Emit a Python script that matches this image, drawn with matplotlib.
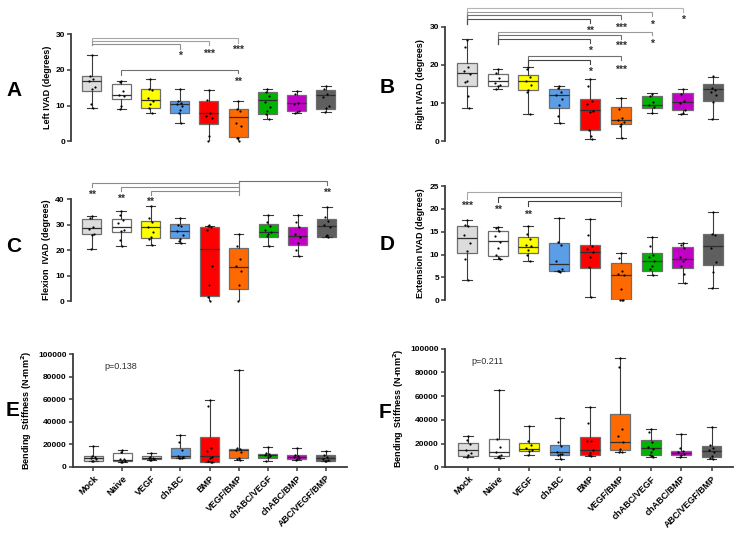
import matplotlib.pyplot as plt

plt.rcParams['font.family'] = ['Liberation Sans', 'DejaVu Sans']

groups = ['Mock', 'Naive', 'VEGF', 'chABC', 'BMP', 'VEGF/BMP',
          'chABC/VEGF', 'chABC/BMP', 'ABC/VEGF/BMP']
box_colors = ['#dcdcdc', '#ffffff', '#ffff00', '#5b9ee8', '#ff0000',
              '#ff6a00', '#00b300', '#c400c8', '#5f5f5f']

# box summaries per group: (whisker low, q1, median, q3, whisker high)
left_box = [(9.2, 14.0, 16.8, 18.2, 24.0), (8.9, 11.8, 13.0, 16.1, 16.8),
            (7.8, 9.3, 11.6, 14.6, 17.5), (5.0, 7.8, 10.4, 11.2, 14.7),
            (0.0, 4.9, 7.8, 11.2, 14.4), (0.0, 1.1, 6.7, 9.1, 11.2),
            (6.3, 7.5, 11.5, 13.7, 14.7), (7.8, 8.5, 10.6, 13.0, 14.2),
            (8.1, 9.1, 12.9, 14.4, 15.4)]
left_pts = [[24.0, 18.2, 17.5, 16.8, 15.2, 14.5, 10.3, 9.3],
            [16.8, 16.5, 14.2, 13.0, 12.6, 9.8, 8.9],
            [17.5, 14.6, 14.4, 12.2, 11.4, 10.5, 9.4, 7.8],
            [14.7, 11.2, 10.7, 10.3, 10.0, 8.8, 8.0, 5.0],
            [14.4, 11.5, 8.0, 7.2, 6.5, 1.5, 0.0],
            [11.2, 9.1, 8.4, 5.1, 4.3, 1.0, 0.8, 0.1],
            [14.7, 13.9, 12.8, 11.0, 9.6, 8.6, 7.5, 6.3],
            [14.0, 13.2, 10.8, 10.5, 8.5, 8.2, 7.8],
            [15.4, 14.5, 13.2, 12.5, 9.8, 9.2, 8.3]]

right_box = [(8.8, 14.6, 17.8, 20.6, 26.7), (13.8, 14.6, 15.8, 17.6, 18.8),
             (7.1, 13.3, 15.8, 17.3, 19.5), (4.9, 8.8, 12.0, 13.7, 14.6),
             (0.6, 2.9, 8.1, 11.2, 16.4), (0.9, 4.4, 5.6, 8.9, 11.4),
             (7.5, 8.8, 9.6, 11.9, 12.6), (7.1, 8.1, 10.3, 12.6, 13.8),
             (5.9, 10.6, 13.6, 14.9, 16.9)]
right_pts = [[26.5, 24.8, 19.5, 18.5, 17.5, 15.8, 15.5, 11.9, 8.8],
             [18.8, 17.8, 16.5, 15.2, 14.8, 14.5, 13.8],
             [19.5, 18.8, 16.8, 15.8, 14.8, 13.5, 12.8, 7.1],
             [14.5, 14.0, 13.0, 12.0, 11.0, 9.5, 6.5, 4.9],
             [16.4, 14.5, 10.5, 9.8, 8.0, 7.8, 3.0, 1.5, 0.6],
             [11.4, 8.5, 6.2, 5.5, 5.0, 4.4, 4.0, 0.9],
             [12.5, 11.8, 10.3, 9.6, 9.0, 7.5],
             [13.8, 12.5, 10.5, 10.0, 8.1, 7.5, 7.1],
             [17.0, 14.0, 13.5, 13.0, 12.0, 10.2, 5.9]]

flex_box = [(20.3, 26.2, 28.6, 32.1, 33.4), (21.6, 27.0, 29.2, 32.1, 35.4),
            (22.0, 24.7, 29.0, 31.6, 37.4), (22.7, 24.7, 27.5, 30.2, 32.5),
            (0.0, 2.1, 20.5, 29.0, 29.6), (0.0, 4.6, 13.5, 20.7, 26.4),
            (21.8, 25.0, 27.0, 30.4, 33.8), (17.6, 22.0, 25.6, 29.0, 33.7),
            (25.3, 25.3, 29.5, 32.4, 36.9)]
flex_pts = [[33.4, 32.5, 29.0, 28.5, 26.5, 26.0, 20.3],
            [35.4, 34.0, 32.0, 30.5, 28.0, 27.5, 24.0, 21.6],
            [37.4, 32.5, 31.0, 29.0, 27.0, 25.0, 24.5, 22.0],
            [32.5, 30.0, 29.5, 27.5, 26.0, 24.5, 23.5, 22.7],
            [29.8, 29.6, 29.3, 27.8, 13.8, 6.2, 1.5, 0.0],
            [26.4, 21.5, 16.4, 13.8, 12.0, 6.2, 0.0],
            [33.8, 31.0, 29.5, 28.0, 27.0, 26.5, 25.5, 21.8],
            [33.7, 31.0, 29.0, 26.5, 25.0, 23.0, 20.0, 17.6],
            [36.9, 33.0, 31.5, 30.0, 29.0, 26.0, 25.5, 25.3]]

ext_box = [(4.4, 10.3, 13.7, 16.3, 17.6), (9.0, 9.8, 12.9, 15.1, 16.1),
           (8.7, 10.3, 11.7, 13.8, 16.3), (6.5, 6.5, 7.9, 12.5, 17.9),
           (0.7, 7.0, 10.5, 12.2, 17.7), (0.0, 0.0, 5.5, 8.2, 10.4),
           (5.5, 6.5, 8.6, 10.3, 13.9), (3.8, 7.0, 9.1, 11.6, 12.6),
           (2.8, 7.7, 11.8, 14.4, 19.4)]
ext_pts = [[17.6, 16.5, 16.2, 14.2, 12.5, 10.8, 9.0, 4.4],
           [16.1, 15.8, 15.2, 14.0, 12.8, 11.5, 10.0, 9.2, 9.0],
           [16.3, 14.5, 13.5, 12.2, 11.8, 11.0, 10.0, 8.7],
           [17.9, 12.8, 12.0, 8.5, 6.8, 6.5, 6.5, 6.3],
           [17.7, 14.2, 11.8, 11.2, 10.5, 9.5, 7.2, 0.7],
           [10.4, 9.2, 6.5, 5.8, 5.5, 2.5, 0.1, 0.0, 0.0],
           [13.9, 11.8, 10.0, 9.5, 8.5, 7.5, 6.8, 5.5],
           [12.5, 12.0, 11.5, 9.5, 9.0, 8.5, 7.5, 5.8, 3.8],
           [19.4, 14.5, 14.3, 11.5, 8.3, 6.2, 2.8]]

bend_e_box = [(4730, 5330, 7690, 9170, 18640), (3850, 5330, 5900, 12430, 14500),
              (5600, 6800, 7700, 9170, 12100), (7690, 7690, 9170, 16570, 27800),
              (3850, 4140, 9170, 26000, 59200), (5900, 7400, 15100, 16000, 85500),
              (5330, 7990, 10060, 11240, 17460), (6210, 7100, 8290, 10650, 16570),
              (4730, 5330, 7690, 10060, 13900)]
bend_e_pts = [[18600, 9200, 8500, 7700, 6500, 5300, 4700],
              [14500, 13000, 7000, 6500, 5500, 4000, 3850],
              [12000, 9000, 8000, 7700, 7000, 6000, 5600],
              [27800, 22000, 14500, 9500, 8500, 8000, 7700, 7700],
              [59200, 54000, 17000, 14000, 9000, 7500, 5000, 4000, 3850],
              [85500, 16500, 15500, 15000, 13000, 8000, 7000, 5900],
              [17400, 12000, 11000, 10000, 9500, 8500, 5300],
              [16500, 10500, 9500, 8300, 7500, 7000, 6200],
              [13900, 10000, 8500, 7000, 6000, 5000, 4700]]

bend_f_box = [(8990, 9830, 14900, 20800, 26700), (7870, 9270, 12900, 23600, 65400),
              (10700, 13500, 15700, 20500, 35100), (6740, 10700, 12600, 18800, 41300),
              (9550, 10400, 14300, 25800, 50600), (12600, 14300, 21100, 44700, 92400),
              (8700, 10100, 16000, 23300, 32600), (8700, 10100, 12400, 14000, 27800),
              (7300, 8700, 13500, 17700, 33700)]
bend_f_pts = [[26700, 23000, 19500, 15000, 12000, 10000, 9000],
              [65400, 23600, 17000, 12500, 10500, 9500, 8500, 7900],
              [35000, 22000, 19000, 16000, 15000, 14000, 10700],
              [41300, 21000, 18000, 12500, 11500, 11000, 10500, 6700],
              [50600, 37500, 22500, 22000, 15000, 12000, 10500, 9500],
              [92400, 84500, 32000, 26000, 21000, 15500, 13000, 12600],
              [32600, 30000, 21000, 17000, 15500, 13000, 10000, 9500, 8700],
              [27800, 16500, 13500, 12500, 11500, 10000, 9000],
              [33700, 19000, 16000, 14500, 13000, 9500, 8000, 7300]]

jitter = [0.0, -0.05, 0.05, -0.09, 0.09, 0.0, -0.04, 0.04, 0.07]


def draw_boxes(ax, box, pts):
    stats = [dict(whislo=b[0], q1=b[1], med=b[2], q3=b[3], whishi=b[4], fliers=[])
             for b in box]
    res = ax.bxp(stats, positions=range(len(groups)), widths=0.65,
                 patch_artist=True, showfliers=False, capwidths=0.32,
                 boxprops=dict(edgecolor='#6e6e6e', linewidth=0.9),
                 medianprops=dict(color='#2e2e2e', linewidth=0.9),
                 whiskerprops=dict(color='#3a3a3a', linewidth=0.8),
                 capprops=dict(color='#3a3a3a', linewidth=0.8))
    for patch, c in zip(res['boxes'], box_colors):
        patch.set_facecolor(c)
    for i, vals in enumerate(pts):
        xs = [i + jitter[k % len(jitter)] for k in range(len(vals))]
        ax.scatter(xs, vals, s=2.5, color='black', zorder=4, clip_on=False,
                   linewidths=0)


def style(ax, ylabel, yticks, xlim, with_x=False):
    ax.set_xlim(*xlim)
    ax.set_ylim(yticks[0], yticks[-1])
    ax.set_yticks(yticks)
    ax.set_ylabel(ylabel, fontsize=6.5, fontweight='bold', labelpad=3)
    for s in ['top', 'right']:
        ax.spines[s].set_visible(False)
    for s in ['left', 'bottom']:
        ax.spines[s].set_linewidth(1.3)
        ax.spines[s].set_color('#3a3a3a')
    ax.tick_params(axis='y', labelsize=6, width=1.1, length=3, color='#3a3a3a', pad=1.5)
    for t in ax.get_yticklabels():
        t.set_fontweight('bold')
    if with_x:
        ax.set_xticks(range(len(groups)))
        ax.set_xticklabels(groups, rotation=45, ha='right', rotation_mode='anchor',
                           fontsize=6.5, fontweight='bold')
        ax.tick_params(axis='x', width=1.1, length=3, color='#3a3a3a', pad=2)
    else:
        ax.spines['bottom'].set_visible(False)
        ax.set_xticks([])


def bracket(ax, x1, x2, y, y1, y2, color='#8c8c8c'):
    ax.plot([x1, x1, x2, x2], [y1, y, y, y2], color=color, lw=0.8,
            clip_on=False, solid_joinstyle='miter')


def stars(ax, x, y, s):
    ax.text(x, y, s, ha='center', va='center', fontsize=7.5, fontweight='bold',
            color='#303030')


fig = plt.figure(figsize=(7.37, 5.34), dpi=100)

# A
axA = fig.add_axes([0.097, 0.7354, 0.369, 0.2009])
draw_boxes(axA, left_box, left_pts)
style(axA, 'Left IVAD (degrees)', [0, 10, 20, 30], (-0.7, 8.6))
bracket(axA, 0, 5, 28.9, 27.0, 27.5, '#a8a8a8')
bracket(axA, 0, 4, 28.1, 27.0, 26.8, '#a0a0a0')
bracket(axA, 0, 3, 27.2, 27.0, 25.9, '#909090')
bracket(axA, 1, 5, 20.0, 18.6, 19.1, '#707070')
stars(axA, 5, 25.6, '***')
stars(axA, 4, 24.4, '***')
stars(axA, 3, 23.9, '*')
stars(axA, 5, 16.6, '**')

# B
axB = fig.add_axes([0.604, 0.7354, 0.389, 0.2146])
draw_boxes(axB, right_box, right_pts)
style(axB, 'Right IVAD (degrees)', [0, 10, 20, 30], (-0.7, 8.6))
bracket(axB, 0, 7, 35.0, 30.7, 33.8, '#b4b4b4')
bracket(axB, 0, 6, 33.9, 30.7, 32.9, '#9a9a9a')
bracket(axB, 0, 5, 33.0, 30.7, 32.0, '#707070')
bracket(axB, 0, 4, 32.0, 30.7, 31.0, '#505050')
bracket(axB, 1, 6, 28.7, 25.4, 27.7, '#9a9a9a')
bracket(axB, 1, 5, 27.7, 25.4, 26.7, '#707070')
bracket(axB, 1, 4, 26.7, 25.4, 25.7, '#505050')
bracket(axB, 2, 5, 22.4, 20.0, 21.4, '#707070')
bracket(axB, 2, 4, 21.3, 20.0, 20.3, '#404040')
stars(axB, 7, 31.8, '*')
stars(axB, 6, 30.5, '*')
stars(axB, 5, 29.8, '***')
stars(axB, 4, 28.9, '**')
stars(axB, 6, 25.5, '*')
stars(axB, 5, 24.9, '***')
stars(axB, 4, 23.7, '*')
stars(axB, 5, 18.8, '***')
stars(axB, 4, 18.3, '*')

# C
axC = fig.add_axes([0.0965, 0.4363, 0.371, 0.1904])
draw_boxes(axC, flex_box, flex_pts)
style(axC, 'Flexion  IVAD (degrees)', [0, 10, 20, 30, 40], (-0.7, 8.6))
bracket(axC, 0, 5, 46.3, 45.0, 46.3, '#8c8c8c')
bracket(axC, 1, 5, 44.7, 43.4, 44.7, '#8c8c8c')
bracket(axC, 2, 5, 43.1, 41.8, 43.1, '#8c8c8c')
axC.plot([5, 5], [41.7, 47.3], color='#8c8c8c', lw=0.8, clip_on=False)
bracket(axC, 5, 8, 47.3, 47.3, 45.6, '#707070')
stars(axC, 0, 41.8, '**')
stars(axC, 1, 40.2, '**')
stars(axC, 2, 38.9, '**')
stars(axC, 8, 42.7, '**')

# D
axD = fig.add_axes([0.604, 0.4376, 0.389, 0.2140])
draw_boxes(axD, ext_box, ext_pts)
style(axD, 'Extension IVAD (degrees)', [0, 5, 10, 15, 20, 25], (-0.7, 8.6))
bracket(axD, 0, 5, 23.6, 22.2, 23.6, '#a8a8a8')
bracket(axD, 1, 5, 22.6, 21.5, 22.6, '#404040')
bracket(axD, 2, 5, 21.7, 20.6, 21.7, '#404040')
axD.plot([5, 5], [20.6, 23.6], color='#808080', lw=0.8, clip_on=False)
stars(axD, 0, 20.7, '***')
stars(axD, 1, 19.8, '**')
stars(axD, 2, 18.8, '**')

# E
axE = fig.add_axes([0.099, 0.1260, 0.3714, 0.2110])
draw_boxes(axE, bend_e_box, bend_e_pts)
style(axE, 'Bending  Stiffness (N-mm$\\mathbf{^2}$)',
      [0, 20000, 40000, 60000, 80000, 100000], (-0.7, 8.72), with_x=True)
axE.text(0.37, 88500, 'p=0.138', fontsize=6.5, va='center', ha='left', color='#303030')

# F
axF = fig.add_axes([0.6037, 0.1249, 0.3906, 0.2221])
draw_boxes(axF, bend_f_box, bend_f_pts)
style(axF, 'Bending  Stiffness (N-mm$\\mathbf{^2}$)',
      [0, 20000, 40000, 60000, 80000, 100000], (-0.77, 8.7), with_x=True)
axF.text(0.1, 88800, 'p=0.211', fontsize=6.5, va='center', ha='left', color='#303030')

# panel letters
for letter, x, y in [('A', 14, 90), ('B', 387, 87), ('C', 14, 246),
                     ('D', 387, 244), ('E', 13, 410), ('F', 385, 412)]:
    fig.text(x / 737, 1 - y / 534, letter, fontsize=15, fontweight='bold',
             ha='center', va='center')

fig.savefig('out.png', dpi=100)
